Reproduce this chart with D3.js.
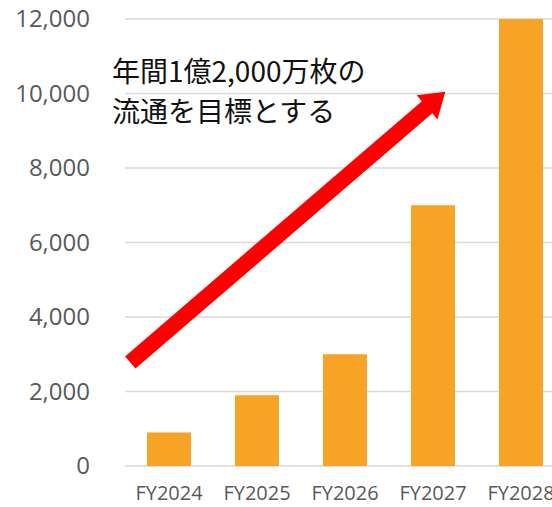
<!DOCTYPE html>
<html>
<head>
<meta charset="utf-8">
<script src="https://cdn.jsdelivr.net/npm/d3@7/dist/d3.min.js"></script>
<style>
  body { margin: 0; background: #fff; }
  svg { display: block; }
</style>
</head>
<body>
<div id="chart"></div>
<script>
// data
const years = ["FY2024", "FY2025", "FY2026", "FY2027", "FY2028"];
const volumes = [900, 1900, 3000, 7000, 12000];
const yTicks = [0, 2000, 4000, 6000, 8000, 10000, 12000];
const noteLines = ["年間1億2,000万枚の", "流通を目標とする"];
// arrow ends in (category index, value)
const arrowFrom = [-0.44, 2780];
const arrowTo = [3.14, 10050];

const width = 552,
  height = 507,
  margin = {top: 19, bottom: 41, left: 125, right: -13};

const svg = d3.select("#chart")
  .append("svg")
  .attr("width", width)
  .attr("height", height);

const xScale = d3.scaleBand()
  .domain(years)
  .range([margin.left, width - margin.right])
  .paddingInner(0.5)
  .paddingOuter(0.25);

const yScale = d3.scaleLinear()
  .domain([0, 12000])
  .range([height - margin.bottom, margin.top]);

// index -> band center, for the arrow
const xIdx = d3.scaleLinear()
  .domain([0, 1])
  .range([xScale(years[0]) + xScale.bandwidth() / 2, xScale(years[1]) + xScale.bandwidth() / 2]);

// gridlines
svg.append("g")
  .selectAll("line")
  .data(yTicks)
  .enter()
  .append("line")
    .attr("x1", margin.left)
    .attr("x2", width)
    .attr("y1", d => yScale(d))
    .attr("y2", d => yScale(d))
    .attr("stroke", "#d9d9d9")
    .attr("stroke-width", 1.5);

// y axis labels
const yAxis = svg.append("g")
  .attr("transform", "translate(90,0)")
  .call(d3.axisLeft(yScale).tickValues(yTicks).tickSize(0).tickPadding(0).tickFormat(d3.format(",")));
yAxis.select(".domain").remove();
yAxis.selectAll("text")
  .attr("fill", "#595959")
  .style("font-family", "'Open Sans', sans-serif")
  .style("font-size", "24px");

// bars
svg.append("g")
  .selectAll("rect")
  .data(volumes)
  .enter()
  .append("rect")
    .attr("x", (d, i) => xScale(years[i]))
    .attr("y", d => yScale(d))
    .attr("width", xScale.bandwidth())
    .attr("height", d => yScale(0) - yScale(d))
    .attr("fill", "#F7A325");

// x axis labels
const xAxis = svg.append("g")
  .attr("transform", "translate(0," + (height - margin.bottom) + ")")
  .call(d3.axisBottom(xScale).tickSize(0).tickPadding(20));
xAxis.select(".domain").remove();
xAxis.selectAll("text")
  .attr("fill", "#595959")
  .style("font-family", "'Open Sans', sans-serif")
  .style("font-size", "20px");

// red arrow
const x0 = xIdx(arrowFrom[0]), y0 = yScale(arrowFrom[1]);
const x1 = xIdx(arrowTo[0]), y1 = yScale(arrowTo[1]);
const ang = Math.atan2(y1 - y0, x1 - x0);
const len = Math.hypot(x1 - x0, y1 - y0);
const shaft = 8, head = 16, headLen = 24;
svg.append("path")
  .attr("transform", "translate(" + x0 + "," + y0 + ") rotate(" + (ang * 180 / Math.PI) + ")")
  .attr("d", d3.line()([
    [0, -shaft], [len - headLen, -shaft], [len - headLen, -head],
    [len, 0], [len - headLen, head], [len - headLen, shaft], [0, shaft]
  ]) + "Z")
  .attr("fill", "#FF0000");

// note
svg.append("g")
  .selectAll("text")
  .data(noteLines)
  .enter()
  .append("text")
    .attr("x", 112)
    .attr("y", (d, i) => 82 + i * 40)
    .attr("fill", "#111")
    .style("font-family", "'Noto Sans CJK JP', sans-serif")
    .style("font-size", "28px")
    .text(d => d);
</script>
</body>
</html>
